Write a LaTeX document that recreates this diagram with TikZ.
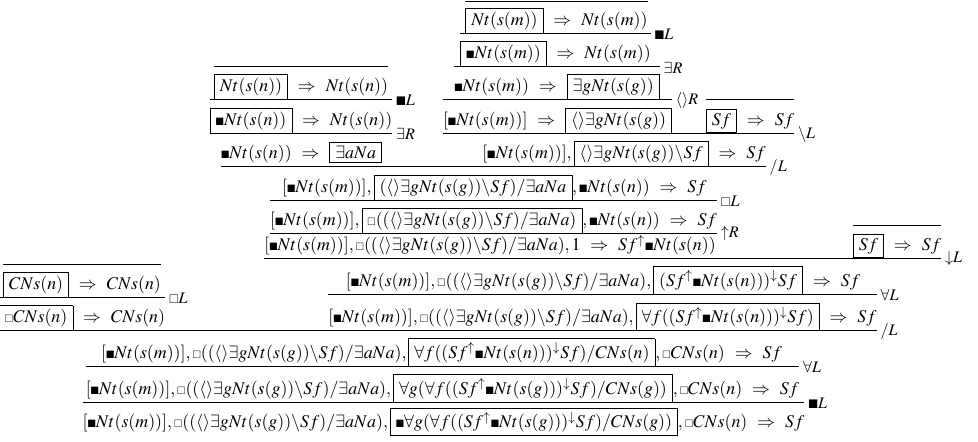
\documentclass[tikz,border=0pt]{standalone}
\usepackage{amssymb}
\usepackage{mathptmx}

\newcommand{\blk}{\mathord{\scriptscriptstyle\blacksquare}}
\newcommand{\wht}{\mathord{\scriptscriptstyle\square}}
\newcommand{\bx}[1]{\fbox{$\,#1\,$}}
\newcommand{\yields}{\ \Rightarrow\ }
\newcommand{\mctx}{[\blk Nt(s(m))]}
\newcommand{\dctx}{\wht((\langle\rangle\exists gNt(s(g))\backslash Sf)/\exists aNa)}
\setlength{\fboxsep}{1.8pt}

\begin{document}
\begin{tikzpicture}[x=0.56pt, y=-0.56pt, line width=0.45pt,
  seq/.style={inner sep=0pt, outer sep=0pt, anchor=base},
  rulename/.style={right, inner sep=2pt, yshift=-0.5pt, font=\small}]
	\useasboundingbox (0,0) rectangle (978,441);
	% right branch
	\node[seq] (NtmAx) at (556.5,25.6) {$\bx{Nt(s(m))}\yields Nt(s(m))$};
	\node[seq] (NtmBox) at (555.5,58.8) {$\bx{\blk Nt(s(m))}\yields Nt(s(m))$};
	\node[seq] (ExistsG) at (557,91.6) {$\blk Nt(s(m))\yields\bx{\exists gNt(s(g))}$};
	\node[seq] (DiamondG) at (557.5,125.4) {$\mctx\yields\bx{\langle\rangle\exists gNt(s(g))}$};
	\node[seq] (SfAx) at (750,125.4) {$\bx{Sf}\yields Sf$};
	\node[seq] (Under) at (624,158.6) {$\mctx,\bx{\langle\rangle\exists gNt(s(g))\backslash Sf}\yields Sf$};
	% left branch
	\node[seq] (NtnAx) at (301,91.6) {$\bx{Nt(s(n))}\yields Nt(s(n))$};
	\node[seq] (NtnBox) at (301,125.4) {$\bx{\blk Nt(s(n))}\yields Nt(s(n))$};
	\node[seq] (ExistsA) at (301.5,158.6) {$\blk Nt(s(n))\yields\bx{\exists aNa}$};
	% trunk
	\node[seq] (Over) at (494.5,192.1) {$\mctx,\bx{(\langle\rangle\exists gNt(s(g))\backslash Sf)/\exists aNa},\blk Nt(s(n))\yields Sf$};
	\node[seq] (BoxOver) at (493.5,225.1) {$\mctx,\bx{\dctx},\blk Nt(s(n))\yields Sf$};
	\node[seq] (Lift) at (490,250.8) {$\mctx,\dctx,1\yields Sf^{\uparrow}\blk Nt(s(n))$};
	\node[seq] (SfAxTwo) at (897,250.1) {$\bx{Sf}\yields Sf$};
	\node[seq] (Wrap) at (603,286.1) {$\mctx,\dctx,\bx{(Sf^{\uparrow}\blk Nt(s(n)))^{\downarrow}Sf}\yields Sf$};
	\node[seq] (ForallF) at (602.5,322.6) {$\mctx,\dctx,\bx{\forall f((Sf^{\uparrow}\blk Nt(s(n)))^{\downarrow}Sf)}\yields Sf$};
	\node[seq] (CNsAx) at (82,289.8) {$\bx{CNs(n)}\yields CNs(n)$};
	\node[seq] (CNsBox) at (82,322.6) {$\bx{\wht CNs(n)}\yields CNs(n)$};
	\node[seq] (Slash) at (441.5,358.1) {$\mctx,\dctx,\bx{\forall f((Sf^{\uparrow}\blk Nt(s(n)))^{\downarrow}Sf)/CNs(n)},\wht CNs(n)\yields Sf$};
	\node[seq] (ForallG) at (442.5,394.1) {$\mctx,\dctx,\bx{\forall g(\forall f((Sf^{\uparrow}\blk Nt(s(g)))^{\downarrow}Sf)/CNs(g))},\wht CNs(n)\yields Sf$};
	\node[seq] (Goal) at (443.5,427.5) {$\mctx,\dctx,\bx{\blk\forall g(\forall f((Sf^{\uparrow}\blk Nt(s(g)))^{\downarrow}Sf)/CNs(g))},\wht CNs(n)\yields Sf$};
	% inference lines
	\draw (NtmAx.west |- 0,1.5) -- (NtmAx.east |- 0,1.5);
	\draw (NtmBox.west |- 0,33.5) -- (NtmBox.east |- 0,33.5) node[rulename] {$\scriptstyle\blacksquare\textstyle L$};
	\draw (ExistsG.west |- 0,66.7) -- (ExistsG.east |- 0,66.7) node[rulename] {$\exists R$};
	\draw (NtnAx.west |- 0,66.7) -- (NtnAx.east |- 0,66.7);
	\draw (DiamondG.west |- 0,99.5) -- (DiamondG.east |- 0,99.5) node[rulename] {$\langle\rangle R$};
	\draw (SfAx.west |- 0,99.5) -- (SfAx.east |- 0,99.5);
	\draw (NtnBox.west |- 0,99.5) -- (NtnBox.east |- 0,99.5) node[rulename] {$\scriptstyle\blacksquare\textstyle L$};
	\draw (DiamondG.west |- 0,133.3) -- (SfAx.east |- 0,133.3) node[rulename] {$\backslash L$};
	\draw (NtnBox.west |- 0,133.3) -- (NtnBox.east |- 0,133.3) node[rulename] {$\exists R$};
	\draw (ExistsA.west |- 0,166.5) -- (Under.east |- 0,166.5) node[rulename] {$/L$};
	\draw (BoxOver.west |- 0,200) -- (BoxOver.east |- 0,200) node[rulename] {$\scriptstyle\square\textstyle L$};
	\draw (BoxOver.west |- 0,233) -- (BoxOver.east |- 0,233) node[rulename] {${\uparrow}R$};
	\draw (SfAxTwo.west |- 0,225) -- (SfAxTwo.east |- 0,225);
	\draw (Lift.west |- 0,258) -- (SfAxTwo.east |- 0,258) node[rulename] {${\downarrow}L$};
	\draw (ForallF.west |- 0,294) -- (ForallF.east |- 0,294) node[rulename] {$\forall L$};
	\draw (CNsAx.west |- 0,264) -- (CNsAx.east |- 0,264);
	\draw (CNsBox.west |- 0,297.7) -- (CNsBox.east |- 0,297.7) node[rulename] {$\scriptstyle\square\textstyle L$};
	\draw (CNsBox.west |- 0,330.5) -- (ForallF.east |- 0,330.5) node[rulename] {$/L$};
	\draw (ForallG.west |- 0,366) -- (ForallG.east |- 0,366) node[rulename] {$\forall L$};
	\draw (Goal.west |- 0,402) -- (Goal.east |- 0,402) node[rulename] {$\scriptstyle\blacksquare\textstyle L$};
\end{tikzpicture}
\end{document}
